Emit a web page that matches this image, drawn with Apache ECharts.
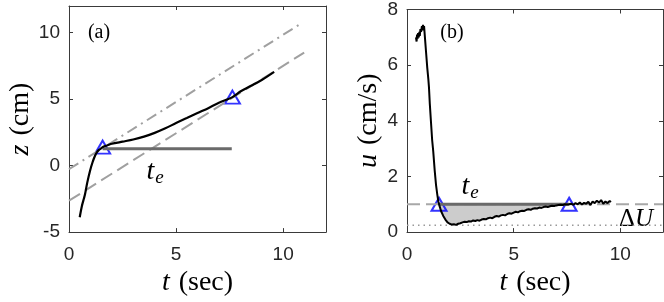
<!DOCTYPE html>
<html><head><meta charset="utf-8">
<script src="https://cdn.jsdelivr.net/npm/echarts@6/dist/echarts.min.js"></script>
<style>html,body{margin:0;padding:0;background:#fff}#c{width:664px;height:302px}</style>
</head><body><div id="c"></div>
<script>
// ---- Panel (a): z vs t ----
const zCurve = [[0.5,-3.88],[0.6,-3.05],[0.7,-2.45],[0.75,-2.14],[0.85,-1.3],[0.98,-0.4],[1.1,0.25],[1.21,0.72],[1.3,1.0],[1.4,1.18],[1.5,1.3],[1.6,1.42],[1.8,1.53],[2.0,1.64],[2.5,1.8],[3.0,1.96],[3.5,2.18],[4.0,2.46],[4.5,2.8],[5.0,3.2],[5.5,3.57],[6.0,3.95],[6.5,4.32],[7.0,4.72],[7.63,5.15],[8.0,5.57],[8.5,6.0],[9.0,6.44],[9.58,7.05]];
const zTriangles = [[1.57,1.39],[7.63,5.15]];
const zHorizontal = [[1.57,1.27],[7.6,1.27]];
const zDashDot = [[0,-0.27],[10.9,10.75]];
const zDashed = [[0,-2.64],[10.98,8.5]];
const zTicksX = [0,5,10];
const zTicksY = [-5,0,5,10];

// ---- Panel (b): u vs t ----
const uCurve = [[0.42,7.0],[0.45,6.85],[0.47,7.1],[0.5,6.95],[0.52,7.15],[0.55,7.0],[0.58,7.2],[0.6,7.05],[0.63,7.3],[0.66,7.2],[0.7,7.4],[0.72,7.25],[0.75,7.45],[0.78,7.3],[0.8,7.4],[0.85,6.9],[0.9,6.4],[0.95,5.9],[1.0,5.5],[1.03,5.2],[1.07,4.6],[1.12,4.0],[1.18,3.3],[1.23,2.9],[1.3,2.2],[1.36,1.7],[1.42,1.35],[1.47,1.1],[1.52,0.95],[1.6,0.75],[1.7,0.58],[1.8,0.45],[1.9,0.35],[2.0,0.3],[2.1,0.27],[2.2,0.28],[2.3,0.26],[2.4,0.3],[2.5,0.32],[2.6,0.35],[2.7,0.37],[2.8,0.36],[2.9,0.39],[3.0,0.38],[3.1,0.42],[3.2,0.4],[3.3,0.43],[3.4,0.41],[3.5,0.45],[3.6,0.47],[3.7,0.46],[3.8,0.5],[3.9,0.52],[4.0,0.5],[4.1,0.55],[4.2,0.58],[4.3,0.56],[4.4,0.6],[4.5,0.62],[4.6,0.6],[4.7,0.65],[4.8,0.68],[4.9,0.66],[5.0,0.7],[5.1,0.73],[5.2,0.71],[5.3,0.75],[5.4,0.77],[5.5,0.76],[5.6,0.8],[5.7,0.82],[5.8,0.8],[5.9,0.84],[6.0,0.86],[6.1,0.85],[6.2,0.88],[6.3,0.87],[6.4,0.9],[6.5,0.92],[6.6,0.9],[6.7,0.93],[6.8,0.95],[6.9,0.94],[7.0,0.96],[7.1,0.97],[7.2,0.98],[7.3,0.97],[7.4,1.0],[7.5,0.99],[7.6,1.0],[7.7,1.02],[7.8,0.98],[7.9,1.04],[8.0,1.0],[8.1,1.06],[8.2,0.99],[8.3,1.05],[8.4,1.02],[8.5,1.09],[8.6,0.97],[8.7,1.1],[8.8,1.04],[8.9,1.13],[9.0,1.06],[9.1,1.15],[9.2,1.02],[9.3,1.1],[9.4,1.04],[9.5,1.12],[9.56,1.08]];
const uTriangles = [[1.5,1.0],[7.6,1.0]];
const uLevel = 1.0;
const uFloor = 0.25;
const uFillRange = [1.5,7.6];
const uTicksX = [0,5,10];
const uTicksY = [0,2,4,6,8];

const chart = echarts.init(document.getElementById('c'));
const sans = 'Liberation Sans, Arial, sans-serif';
const serif = 'Liberation Serif, Times New Roman, serif';
const boxColor = '#3a3a3a';
const labelColor = '#262626';
const nameRich = {
  i:{fontFamily:serif,fontStyle:'italic',fontSize:28,color:'#000'},
  r:{fontFamily:serif,fontSize:28,color:'#000',padding:[0,0,0,9]}
};

function mainX(idx, ticks, nameGap){
  return {type:'value', gridIndex:idx, min:0, max:12, interval:5,
    axisLine:{show:true,onZero:false,lineStyle:{color:boxColor,width:1}},
    axisTick:{show:true,inside:true,length:4,lineStyle:{color:boxColor},customValues:ticks},
    axisLabel:{color:labelColor,fontFamily:sans,fontSize:19,margin:13,customValues:ticks},
    splitLine:{show:false},
    name:'{i|t}{r|(sec)}', nameLocation:'middle', nameGap:nameGap,
    nameTextStyle:{rich:nameRich}
  };
}
function boxX(idx, ticks){
  return {type:'value', gridIndex:idx, position:'top', min:0, max:12, interval:5,
    axisLine:{show:true,onZero:false,lineStyle:{color:boxColor,width:1}},
    axisTick:{show:true,inside:true,length:4,lineStyle:{color:boxColor},customValues:ticks},
    axisLabel:{show:false}, splitLine:{show:false}};
}
function mainY(idx, min, max, interval, ticks, name, nameGap){
  return {type:'value', gridIndex:idx, min:min, max:max, interval:interval,
    axisLine:{show:true,onZero:false,lineStyle:{color:boxColor,width:1}},
    axisTick:{show:true,inside:true,length:4,lineStyle:{color:boxColor},customValues:ticks},
    axisLabel:{color:labelColor,fontFamily:sans,fontSize:19,margin:9,customValues:ticks},
    splitLine:{show:false},
    name:name, nameLocation:'middle', nameGap:nameGap,
    nameTextStyle:{rich:nameRich}
  };
}
function boxY(idx, min, max, interval, ticks){
  return {type:'value', gridIndex:idx, position:'right', min:min, max:max, interval:interval,
    axisLine:{show:true,onZero:false,lineStyle:{color:boxColor,width:1}},
    axisTick:{show:true,inside:true,length:4,lineStyle:{color:boxColor},customValues:ticks},
    axisLabel:{show:false}, splitLine:{show:false}};
}

const fillPts = uCurve.filter(p => p[0] >= uFillRange[0] && p[0] <= uFillRange[1]);

chart.setOption({
  animation:false,
  grid:[
    {left:69, top:6, width:257, height:229},
    {left:407, top:6, width:256, height:229}
  ],
  xAxis:[mainX(0,zTicksX,35), mainX(1,uTicksX,35), boxX(0,zTicksX), boxX(1,uTicksX)],
  yAxis:[
    mainY(0,-5,12,5,zTicksY,'{i|z}{r|(cm)}',34),
    mainY(1,0,8,2,uTicksY,'{i|u}{r|(cm/s)}',24),
    boxY(0,-5,12,5,zTicksY),
    boxY(1,0,8,2,uTicksY)
  ],
  series:[
    // panel a
    {type:'line', xAxisIndex:0, yAxisIndex:0, data:zDashDot, showSymbol:false, silent:true,
      lineStyle:{color:'#a0a0a0', width:2, type:[11,5,2,5]}},
    {type:'line', xAxisIndex:0, yAxisIndex:0, data:zDashed, showSymbol:false, silent:true,
      lineStyle:{color:'#a0a0a0', width:2, type:[13,6]}},
    {type:'line', xAxisIndex:0, yAxisIndex:0, data:zHorizontal, showSymbol:false, silent:true,
      lineStyle:{color:'#6a6a6a', width:3}},
    {type:'line', xAxisIndex:0, yAxisIndex:0, data:zCurve, showSymbol:false, smooth:0.3, silent:true,
      lineStyle:{color:'#000', width:2.2}},
    {type:'scatter', xAxisIndex:0, yAxisIndex:0, data:zTriangles, symbol:'triangle', symbolSize:[15,13], silent:true,
      itemStyle:{color:'rgba(0,0,0,0)', borderColor:'#0000ff', borderWidth:2}},
    // panel b
    {type:'custom', xAxisIndex:1, yAxisIndex:1, data:[0], silent:true,
      renderItem:function(params, api){
        const pts = fillPts.map(p => api.coord(p));
        pts.push(api.coord([fillPts[fillPts.length-1][0], uLevel]));
        pts.push(api.coord([fillPts[0][0], uLevel]));
        return {type:'polygon', shape:{points:pts}, style:{fill:'#cccccc'}};
      }},
    {type:'line', xAxisIndex:1, yAxisIndex:1, data:[[0,uLevel],[12,uLevel]], showSymbol:false, silent:true,
      lineStyle:{color:'#a8a8a8', width:2, type:[13,6]}},
    {type:'line', xAxisIndex:1, yAxisIndex:1, data:[[0,uFloor],[12,uFloor]], showSymbol:false, silent:true,
      lineStyle:{color:'#999', width:1.5, type:[1.5,4]}},
    {type:'line', xAxisIndex:1, yAxisIndex:1, data:[[uFillRange[0],uLevel],[uFillRange[1],uLevel]], showSymbol:false, silent:true,
      lineStyle:{color:'#6a6a6a', width:3}},
    {type:'line', xAxisIndex:1, yAxisIndex:1, data:uCurve, showSymbol:false, silent:true,
      lineStyle:{color:'#000', width:2}},
    {type:'scatter', xAxisIndex:1, yAxisIndex:1, data:uTriangles, symbol:'triangle', symbolSize:[15,13], silent:true,
      itemStyle:{color:'rgba(0,0,0,0)', borderColor:'#0000ff', borderWidth:2}}
  ],
  graphic:[
    {type:'text', x:99, y:33, style:{text:'(a)', font:'20px '+serif, fill:'#000', align:'center', verticalAlign:'middle'}},
    {type:'text', x:452, y:33, style:{text:'(b)', font:'20px '+serif, fill:'#000', align:'center', verticalAlign:'middle'}},
    {type:'text', x:155, y:172, style:{text:'{t|t}{e|e}', align:'center', verticalAlign:'middle',
      rich:{t:{fontFamily:serif,fontStyle:'italic',fontSize:28,color:'#000'}, e:{fontFamily:serif,fontStyle:'italic',fontSize:19,color:'#000',padding:[12,0,0,1]}}}},
    {type:'text', x:470, y:187, style:{text:'{t|t}{e|e}', align:'center', verticalAlign:'middle',
      rich:{t:{fontFamily:serif,fontStyle:'italic',fontSize:28,color:'#000'}, e:{fontFamily:serif,fontStyle:'italic',fontSize:19,color:'#000',padding:[12,0,0,1]}}}},
    {type:'text', x:636, y:219, style:{text:'{d|Δ}{u|U}', align:'center', verticalAlign:'middle',
      rich:{d:{fontFamily:serif,fontSize:25,color:'#000'}, u:{fontFamily:serif,fontStyle:'italic',fontSize:25,color:'#000'}}}}
  ]
});
</script></body></html>
